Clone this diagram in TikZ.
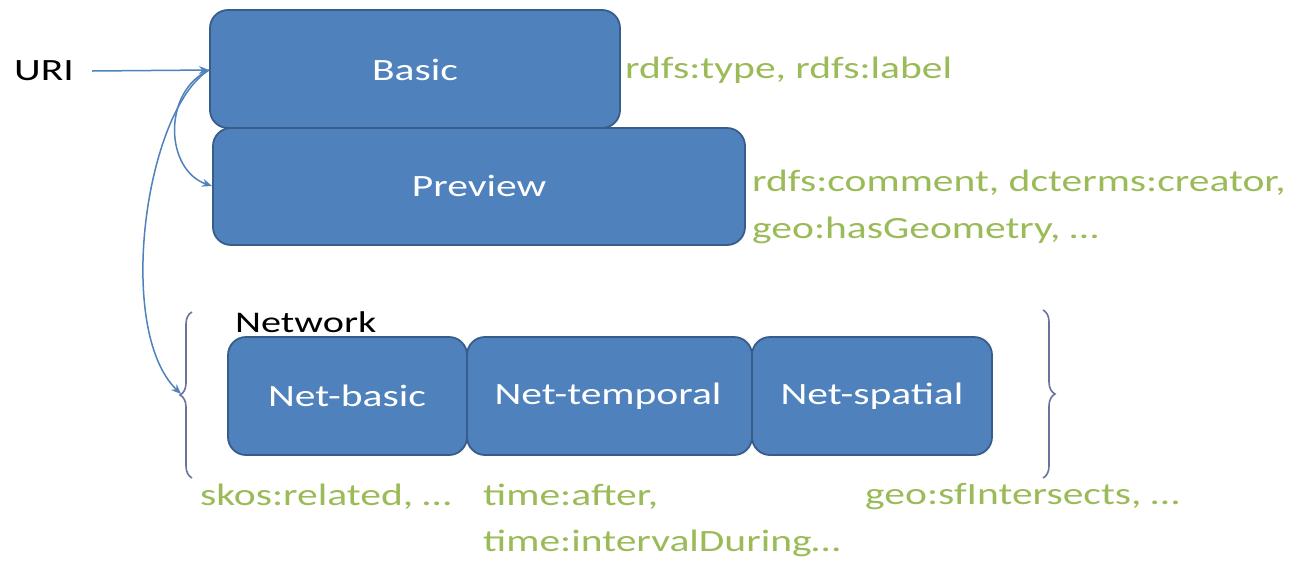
\documentclass[tikz,border=0pt]{standalone}
\usepackage{fontspec}
\setmainfont{Carlito}[FakeStretch=1.34]
\usetikzlibrary{arrows.meta,decorations.pathreplacing}
\definecolor{boxfill}{RGB}{79,129,189}
\definecolor{boxline}{RGB}{56,93,138}
\definecolor{lblgreen}{RGB}{155,187,89}
\definecolor{arrowc}{RGB}{79,129,189}
\definecolor{bracec}{RGB}{105,115,155}
\begin{document}
\begin{tikzpicture}[x=1pt,y=-1pt,
  blk/.style={draw=boxline,line width=1.8pt,fill=boxfill,rounded corners=18pt},
  blktxt/.style={text=white,font=\fontsize{31}{37}\selectfont},
  lbl/.style={text=lblgreen,font=\fontsize{31}{37}\selectfont,anchor=west,inner sep=0pt},
  conn/.style={draw=arrowc,line width=1.5pt,-{Stealth[length=10pt,width=8pt]}},
  brc/.style={draw=bracec,line width=1.6pt,decorate,decoration={brace,amplitude=12pt}}]
\useasboundingbox (0,0) rectangle (1297,563);
% boxes
\draw[blk] (213,128) rectangle (745,245);
\node[blktxt] (preview) at (479,186) {Preview};
\coordinate (previewW) at (212,186);
\draw[blk] (210,10) rectangle (620,128);
\node[blktxt] (basic) at (415,70) {Basic};
\coordinate (basicW) at (209,70);
\draw[blk] (228,337) rectangle (467,455);
\node[blktxt] (netbasic) at (347,396) {Net-basic};
\draw[blk] (467,337) rectangle (752,455);
\node[blktxt] (nettemp) at (608,396) {Net-temporal};
\draw[blk] (752,337) rectangle (992,455);
\node[blktxt] (netspat) at (872,396) {Net-spatial};
% texts
\node[font=\fontsize{31}{37}\selectfont,anchor=west,inner sep=0pt] (uri) at (14,71) {URI};
\node[font=\fontsize{30}{36}\selectfont,anchor=west,inner sep=0pt] (network) at (235,322) {Network};
\node[lbl] (l1) at (625,70) {rdfs:type, rdfs:label};
\node[lbl] (l2) at (752,183) {rdfs:comment, dcterms:creator,};
\node[lbl] (l3) at (752,230) {geo:hasGeometry, \dots};
\node[lbl] (l4) at (200,497) {skos:related, \dots};
\node[lbl] (l5) at (483,497) {time:after,};
\node[lbl] (l6) at (483,543) {time:intervalDuring\dots};
\node[lbl] (l7) at (865,497) {geo:sfIntersects, \dots};
% braces
\draw[brc] (192,478) -- (192,312);
\coordinate (lbtip) at (181,394);
\draw[brc] (1043,310) -- (1043,478);
% connectors
\draw[conn] (uri.east) ++(18,0) coordinate (uristart) -- (basicW);
\draw[conn] (basicW) .. controls (162,92) and (165,170) .. (previewW);
\draw[conn] (basicW) .. controls (145,110) and (115,330) .. (lbtip);
\end{tikzpicture}
\end{document}
